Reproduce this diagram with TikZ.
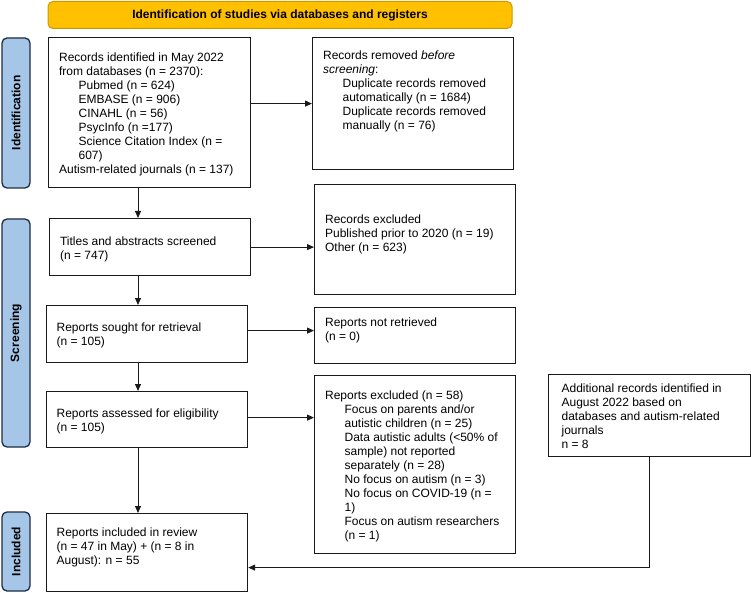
\documentclass[tikz,border=0pt]{standalone}
\usepackage{fontspec}
\setmainfont{Liberation Sans}
\usepackage{xcolor}
\usepackage{tikz}
\usetikzlibrary{arrows.meta}
\definecolor{headerfill}{HTML}{FFC000}
\definecolor{headerdraw}{HTML}{C99A00}
\definecolor{stagefill}{HTML}{A6C6E8}
\definecolor{stagedraw}{HTML}{1F2B45}
\definecolor{boxdraw}{HTML}{1A1A1A}
\tikzset{
  >=Triangle,
  header box/.style={
    rounded corners=5pt,
    fill=headerfill,
    draw=headerdraw,
    line width=1pt,
    minimum width=464pt,
    minimum height=27pt,
    inner sep=0pt,
    font=\bfseries\fontsize{12}{14}\selectfont
  },
  stage box/.style={
    rounded corners=5pt,
    fill=stagefill,
    draw=stagedraw,
    line width=1.3pt,
    rotate=90,
    minimum height=28pt,
    inner sep=0pt,
    font=\bfseries\fontsize{12}{14}\selectfont
  },
  flow box/.style={
    draw=boxdraw,
    line width=1.2pt,
    inner sep=0pt,
    anchor=north west,
    font=\fontsize{12}{14}\selectfont
  },
  flow arrow/.style={
    draw=boxdraw,
    line width=1pt,
    -{Triangle[length=7pt,width=6pt]}
  }
}
% width, height, top gap, lines
\newcommand{\boxlines}[4]{%
  \parbox[c][#2][t]{#1}{\vspace*{#3}\raggedright\leftskip=10.5pt\relax #4}}
\newcommand{\sublvl}{\hspace*{19.5pt}}

\begin{document}
\begin{tikzpicture}[x=1pt,y=-1pt]
  \useasboundingbox (0,0) rectangle (751,593);

  \node[header box] (header) at (280,15)
    {Identification of studies via databases and registers};

  \node[stage box,minimum width=150pt] (stage-id)  at (16,113)   {Identification};
  \node[stage box,minimum width=228pt] (stage-scr) at (16,333)   {Screening};
  \node[stage box,minimum width=79pt]  (stage-inc) at (16,551.5) {Included};

  \node[flow box] (db) at (48,37) {\boxlines{202pt}{150pt}{15pt}{%
    Records identified in May 2022\\
    from databases (n = 2370):\\
    \sublvl Pubmed (n = 624)\\
    \sublvl EMBASE (n = 906)\\
    \sublvl CINAHL (n = 56)\\
    \sublvl PsycInfo (n =177)\\
    \sublvl Science Citation Index (n =\\
    \sublvl 607)\\
    Autism-related journals (n = 137)}};
  \node[flow box] (removed) at (312,37) {\boxlines{201pt}{132pt}{13.5pt}{%
    Records removed \textit{before}\\
    \textit{screening}:\\
    \sublvl Duplicate records removed\\
    \sublvl automatically (n = 1684)\\
    \sublvl Duplicate records removed\\
    \sublvl manually (n = 76)}};

  \node[flow box] (screened) at (49,218) {\boxlines{201pt}{57pt}{18.5pt}{%
    Titles and abstracts screened\\
    (n = 747)}};
  \node[flow box] (excluded) at (314,184) {\boxlines{201pt}{110pt}{30.5pt}{%
    Records excluded\\
    Published prior to 2020 (n = 19)\\
    Other (n = 623)}};

  \node[flow box] (sought) at (45.5,305) {\boxlines{201.5pt}{57pt}{17.5pt}{%
    Reports sought for retrieval\\
    (n = 105)}};
  \node[flow box] (not-retrieved) at (314,307) {\boxlines{201pt}{56pt}{10.5pt}{%
    Reports not retrieved\\
    (n = 0)}};

  \node[flow box] (assessed) at (45.5,391) {\boxlines{201.5pt}{56pt}{17.5pt}{%
    Reports assessed for eligibility\\
    (n = 105)}};
  \node[flow box] (rep-excluded) at (314,375) {\boxlines{201pt}{178pt}{15.5pt}{%
    Reports excluded (n = 58)\\
    \sublvl Focus on parents and/or\\
    \sublvl autistic children (n = 25)\\
    \sublvl Data autistic adults (<50\% of\\
    \sublvl sample) not reported\\
    \sublvl separately (n = 28)\\
    \sublvl No focus on autism (n = 3)\\
    \sublvl No focus on COVID-19 (n =\\
    \sublvl 1)\\
    \sublvl Focus on autism researchers\\
    \sublvl (n = 1)}};
  \node[flow box] (additional) at (548,374) {\boxlines{202pt}{82pt}{9.5pt}{%
    \hspace*{2.5pt}Additional records identified in\\
    \hspace*{2.5pt}August 2022 based on\\
    \hspace*{2.5pt}databases and autism-related\\
    \hspace*{2.5pt}journals\\
    \hspace*{2.5pt}n = 8}};

  \node[flow box] (included) at (45.5,513) {\boxlines{201.5pt}{78pt}{14.5pt}{%
    Reports included in review\\
    (n = 47 in May) + (n = 8 in\\
    August): n = 55}};

  % main column
  \coordinate (spine) at (138,0);
  \draw[flow arrow] (db.south -| spine) -- (screened.north -| spine);
  \draw[flow arrow] (screened.south -| spine) -- (sought.north -| spine);
  \draw[flow arrow] (sought.south -| spine) -- (assessed.north -| spine);
  \draw[flow arrow] (assessed.south -| spine) -- (included.north -| spine);

  % side exits
  \draw[flow arrow] (db.east |- removed.west) -- (removed.west);
  \draw[flow arrow] (screened.east) -- (screened.east -| excluded.west);
  \draw[flow arrow] ([yshift=3.5pt]sought.east) -- ([yshift=3.5pt]sought.east -| not-retrieved.west);
  \draw[flow arrow] ([yshift=2pt]assessed.east) -- ([yshift=2pt]assessed.east -| rep-excluded.west);

  \draw[flow arrow] (additional.south) |- ([yshift=-15pt]included.east);
\end{tikzpicture}
\end{document}
